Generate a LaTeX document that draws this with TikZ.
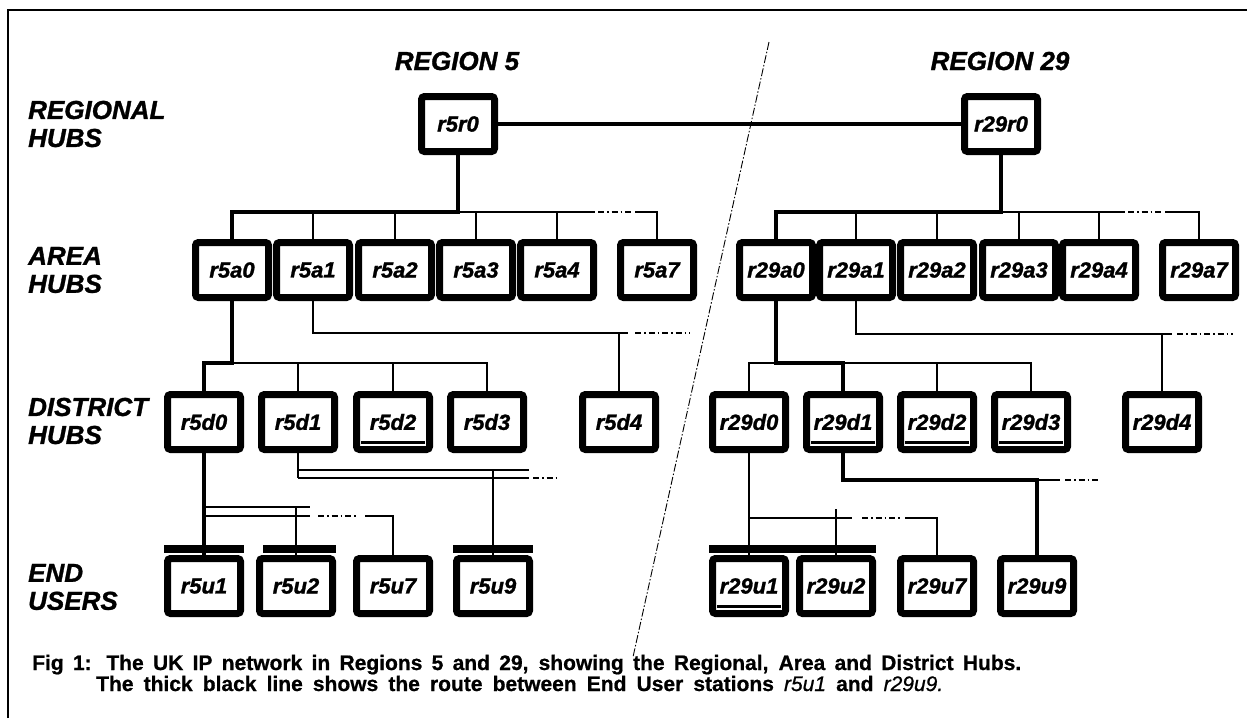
\documentclass[tikz,border=0pt]{standalone}
\usepackage{fontspec}
\setmainfont{Liberation Sans}
\usepackage{tikz}
\tikzset{hub/.style={draw, line width=7pt, rounded corners=3pt, fill=white, minimum width=73pt, minimum height=55pt, inner sep=0pt, font=\fontsize{22}{22}\selectfont\bfseries\itshape\addfontfeature{FakeBold=1.2}},
link/.style={line width=1.4pt},
route/.style={line width=4.5pt},
lan/.style={line width=8pt},
dotdash/.style={line width=1.2pt, dash pattern=on 6pt off 3pt on 1.5pt off 3pt},
%label on the left of a row of hubs
rowlabel/.style={anchor=west, align=left, inner sep=0pt, font=\fontsize{26}{28}\selectfont\bfseries\itshape\addfontfeature{FakeBold=1.2}},
title/.style={anchor=base, font=\fontsize{26}{26}\selectfont\bfseries\itshape\addfontfeature{FakeBold=1.2}},
caption/.style={anchor=base west, inner sep=0pt, font=\fontsize{21}{21}\selectfont\bfseries\addfontfeature{FakeBold=0.8}}}

\begin{document}
\begin{tikzpicture}[x=1pt,y=-1pt]
\useasboundingbox (0,0) rectangle (1247,718);
% frame
\draw[line width=2pt] (8,718) -- (8,10) -- (1247,10);

% titles
\node[title] (t5) at (457,70) {REGION 5};
\node[title] (t29) at (1000,70) {REGION 29};
\node[rowlabel] (lr) at (28,124) {REGIONAL\\HUBS};
\node[rowlabel] (la) at (28,270) {AREA\\HUBS};
\node[rowlabel] (ld) at (28,421) {DISTRICT\\HUBS};
\node[rowlabel] (lu) at (28,587) {END\\USERS};

% hubs
\node[hub] (r5r0) at (458,124) {r5r0};
\node[hub] (r29r0) at (1001,124) {r29r0};
\foreach \n/\x in {r5a0/232,r5a1/313,r5a2/395,r5a3/476,r5a4/557,r5a7/657,r29a0/776,r29a1/856,r29a2/937,r29a3/1019,r29a4/1099,r29a7/1199}
     \node[hub] (\n) at (\x,270) {\n};
\foreach \n/\x in {r5d0/204,r5d1/298,r5d2/393,r5d3/487,r5d4/619,r29d0/749,r29d1/843,r29d2/937,r29d3/1031,r29d4/1162}
     \node[hub] (\n) at (\x,422) {\n};
\foreach \n/\x in {r5u1/204,r5u2/296,r5u7/393,r5u9/493,r29u1/749,r29u2/836,r29u7/937,r29u9/1037}
     \node[hub] (\n) at (\x,586) {\n};
\foreach \n in {r5d2,r29d1,r29d2,r29d3,r29u1}
     \draw[line width=3pt] ([xshift=8pt,yshift=10.5pt]\n.south west) -- ([xshift=-8pt,yshift=10.5pt]\n.south east);

% bus levels
\coordinate (ba) at (0,212);
\coordinate (bb) at (0,333);
\coordinate (bd) at (0,363);
\coordinate (bu) at (0,470);
\coordinate (bl) at (0,478);
\coordinate (br) at (0,480);
\coordinate (be) at (0,507);
\coordinate (bf) at (0,516);

% region border
\draw[line width=0.9pt, dash pattern=on 8pt off 2pt on 1.5pt off 2pt] (769,42) -- (633,657);

% regional hubs
\draw[route] (r5r0.east) -- (r29r0.west);

% region 5
\draw[route] (r5r0.south) -- (r5r0 |- ba) -| (r5a0.north);
\draw[link] (r5r0 |- ba) -- (595,212);
\draw[dotdash] (598,212) -- (632,212);
\draw[link] (635,212) -| (r5a7.north);
\foreach \n in {r5a1,r5a2,r5a3,r5a4}
     \draw[link] (\n.north) -- (\n |- ba);
\draw[route] (r5a0.south) -- (r5a0 |- bd) -| (r5d0.north);
\draw[link] (r5a0 |- bd) -| (r5d3.north);
\foreach \n in {r5d1,r5d2}
     \draw[link] (\n.north) -- (\n |- bd);
\draw[link] (r5a1.south) |- (628,333);
\draw[dotdash] (635,333) -- (690,333);
\draw[link] (r5d4.north) -- (r5d4 |- bb);
\draw[route] (r5d0.south) -- (r5u1.north);
\draw[link] (r5d0 |- be) -- (310,507);
\draw[link] (r5d0 |- bf) -- (310,516);
\draw[dotdash] (318,516) -- (358,516);
\draw[link] (365,516) -| (r5u7.north);
\draw[link] (r5u2 |- be) -- (r5u2.north);
\draw[link] (r5d1.south) -- (r5d1 |- bl);
\draw[link, line width=2pt] (r5d1 |- bu) -- (529,470);
\draw[link] (r5d1 |- bl) -- (529,478);
\draw[dotdash] (533,478) -- (557,478);
\draw[link] (r5u9 |- bu) -- (r5u9.north);
\draw[lan] ([yshift=6pt]r5u1.north west) -- ([yshift=6pt]r5u1.north east);
\draw[lan] ([xshift=7pt,yshift=6pt]r5u2.north west) -- ([yshift=6pt]r5u2.north east);
\draw[lan] ([yshift=6pt]r5u9.north west) -- ([yshift=6pt]r5u9.north east);

% region 29
\draw[route] (r29r0.south) -- (r29r0 |- ba) -| (r29a0.north);
\draw[link] (r29r0 |- ba) -- (1125,212);
\draw[dotdash] (1128,212) -- (1162,212);
\draw[link] (1165,212) -| (r29a7.north);
\foreach \n in {r29a1,r29a2,r29a3,r29a4}
     \draw[link] (\n.north) -- (\n |- ba);
\draw[route] (r29a0.south) -- (r29a0 |- bd) -| (r29d1.north);
\draw[link] (r29a0 |- bd) -| (r29d0.north);
\draw[link] (r29d1 |- bd) -| (r29d3.north);
\draw[link] (r29d2.north) -- (r29d2 |- bd);
\draw[link] (r29a1.south) |- (1172,334);
\draw[dotdash] (1177,334) -- (1233,334);
\draw[link] (r29d4.north) -- (r29d4 |- bb);
\draw[link] (r29d0.south) -- (r29u1.north);
\draw[link] (r29d0 |- 0,518) -- (852,518);
\draw[dotdash] (862,518) -- (900,518);
\draw[link] (905,518) -| (r29u7.north);
\draw[link] (r29u2 |- 0,509) -- (r29u2.north);
\draw[route] (r29d1.south) -- (r29d1 |- br) -| (r29u9.north);
\draw[link] (r29u9 |- br) -- (1060,480);
\draw[dotdash] (1065,480) -- (1100,480);
\draw[lan] ([yshift=6pt]r29u1.north west) -- ([yshift=6pt]r29u2.north east);

% caption
\node[caption] (cap1) at (32,670)
     {\makebox[989pt][s]{Fig 1: The UK IP network in Regions 5 and 29, showing the Regional, Area and District Hubs.}};
\node[caption] (cap2) at (96,691)
     {\makebox[847pt][s]{The thick black line shows the route between End User stations {\mdseries\itshape r5u1} and {\mdseries\itshape r29u9.}}};
\end{tikzpicture}
\end{document}
